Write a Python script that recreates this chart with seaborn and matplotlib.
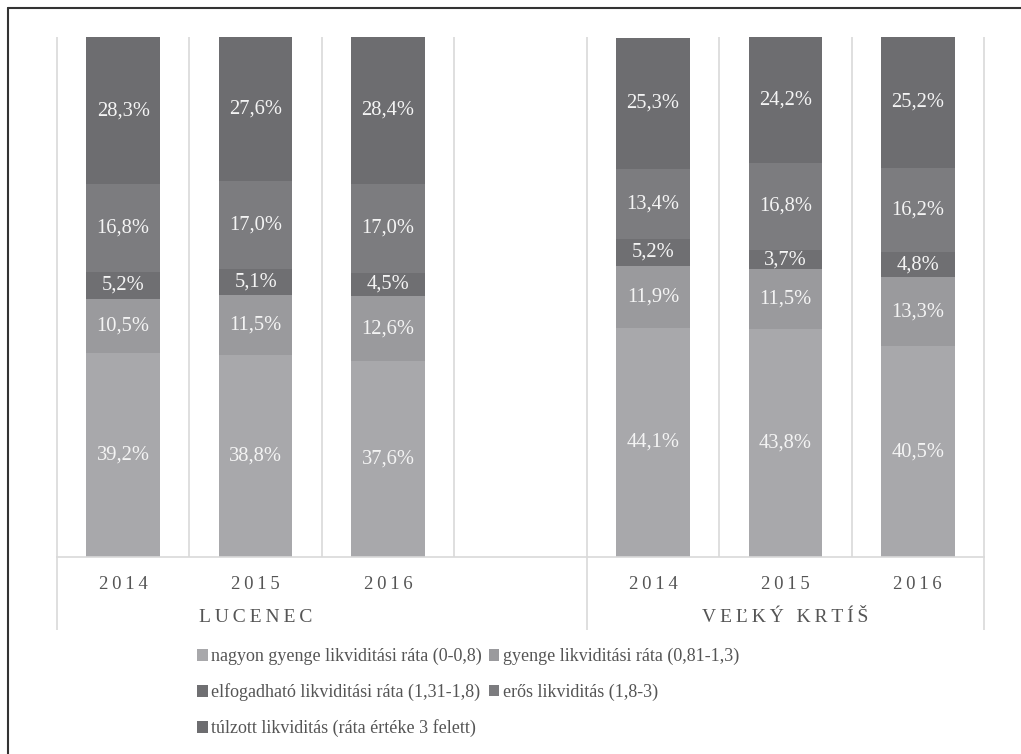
import numpy as np
import pandas as pd
import matplotlib.pyplot as plt
from matplotlib.lines import Line2D
from matplotlib.patches import Patch
import seaborn as sns

# Data
slots = ["L2014", "L2015", "L2016", "gap", "V2014", "V2015", "V2016"]
bar_keys = ["L2014", "L2015", "L2016", "V2014", "V2015", "V2016"]
years = ["2014", "2015", "2016", "2014", "2015", "2016"]
groups = ["LUCENEC", "VEĽKÝ KRTÍŠ"]

series_names = [
    "nagyon gyenge likviditási ráta (0-0,8)",
    "gyenge likviditási ráta (0,81-1,3)",
    "elfogadható likviditási ráta (1,31-1,8)",
    "erős likviditás (1,8-3)",
    "túlzott likviditás (ráta értéke 3 felett)",
]
nagyon_gyenge = [39.2, 38.8, 37.6, 44.1, 43.8, 40.5]
gyenge = [10.5, 11.5, 12.6, 11.9, 11.5, 13.3]
elfogadhato = [5.2, 5.1, 4.5, 5.2, 3.7, 4.8]
eros = [16.8, 17.0, 17.0, 13.4, 16.8, 16.2]
tulzott = [28.3, 27.6, 28.4, 25.3, 24.2, 25.2]
series_values = [nagyon_gyenge, gyenge, elfogadhato, eros, tulzott]
colors = ["#a8a8ab", "#9a9a9d", "#6f6f72", "#7c7c7f", "#6d6d70"]

sns.set_style("white")
plt.rcParams["font.family"] = ["Liberation Serif", "DejaVu Serif"]

fig = plt.figure(figsize=(10.21, 7.54), dpi=100)
ax = fig.add_axes([57 / 1021, 1 - 557 / 754, (984 - 57) / 1021, (557 - 37) / 754])

# stacked bars: draw cumulative totals from the top series down
cum = np.cumsum(np.array(series_values), axis=0)
for i in reversed(range(len(series_values))):
    df = pd.DataFrame({"slot": bar_keys, "value": cum[i]})
    sns.barplot(data=df, x="slot", y="value", order=slots, color=colors[i],
                saturation=1, width=0.555, ax=ax, zorder=2,
                linewidth=0, edgecolor="none")

# value labels
for i, vals in enumerate(series_values):
    bottoms = cum[i] - np.array(vals)
    for j, v in enumerate(vals):
        ax.text(slots.index(bar_keys[j]), bottoms[j] + v / 2,
                f"{v:.1f}%".replace(".", ","), ha="center", va="center",
                color="#f4f4f4", fontsize=14.8, zorder=3)

ax.set_xlim(-0.5, len(slots) - 0.5)
ax.set_ylim(0, 100)
ax.set_xlabel("")
ax.set_ylabel("")
ax.set_yticks([])
for s in ["top", "left", "right"]:
    ax.spines[s].set_visible(False)
ax.spines["bottom"].set_color("#d9d9d9")
ax.spines["bottom"].set_linewidth(1.2)

ax.set_xticks([slots.index(k) for k in bar_keys])
ax.set_xticklabels(["\u2009".join(y) for y in years], fontsize=13.5, color="#555555")
ax.tick_params(axis="x", length=0, pad=14)

# separators
trans = ax.get_xaxis_transform()
for k in range(len(slots) + 1):
    x = k - 0.5
    low = -0.14 if k in (0, 4, 7) else 0
    ax.vlines(x, low, 1, transform=trans, color="#d9d9d9", lw=1.2,
              clip_on=False, zorder=1)

# group labels
ax.text(1, -0.117, "\u2009".join(groups[0]), transform=trans, ha="center",
        va="center", fontsize=14, color="#555555")
ax.text(5, -0.117, "\u2009".join(groups[1]), transform=trans, ha="center",
        va="center", fontsize=14, color="#555555")

# legend
order = [0, 2, 4, 1, 3]
handles = [Patch(facecolor=colors[i], edgecolor="none") for i in order]
labels = [series_names[i] for i in order]
fig.legend(handles, labels, loc="upper left", bbox_to_anchor=(197 / 1021, 1 - 648 / 754),
           ncol=2, frameon=False, fontsize=13, handlelength=0.6, handleheight=0.6,
           handletextpad=0.2, columnspacing=0.35, labelspacing=1.0,
           labelcolor="#555555", borderaxespad=0, borderpad=0)

# frame around figure
fig.add_artist(Line2D([8 / 1021, 8 / 1021], [0, 1 - 8 / 754], color="#333333", lw=1.5))
fig.add_artist(Line2D([8 / 1021, 1], [1 - 8 / 754, 1 - 8 / 754], color="#333333", lw=1.5))

fig.savefig("out.png", dpi=100, facecolor="white")
